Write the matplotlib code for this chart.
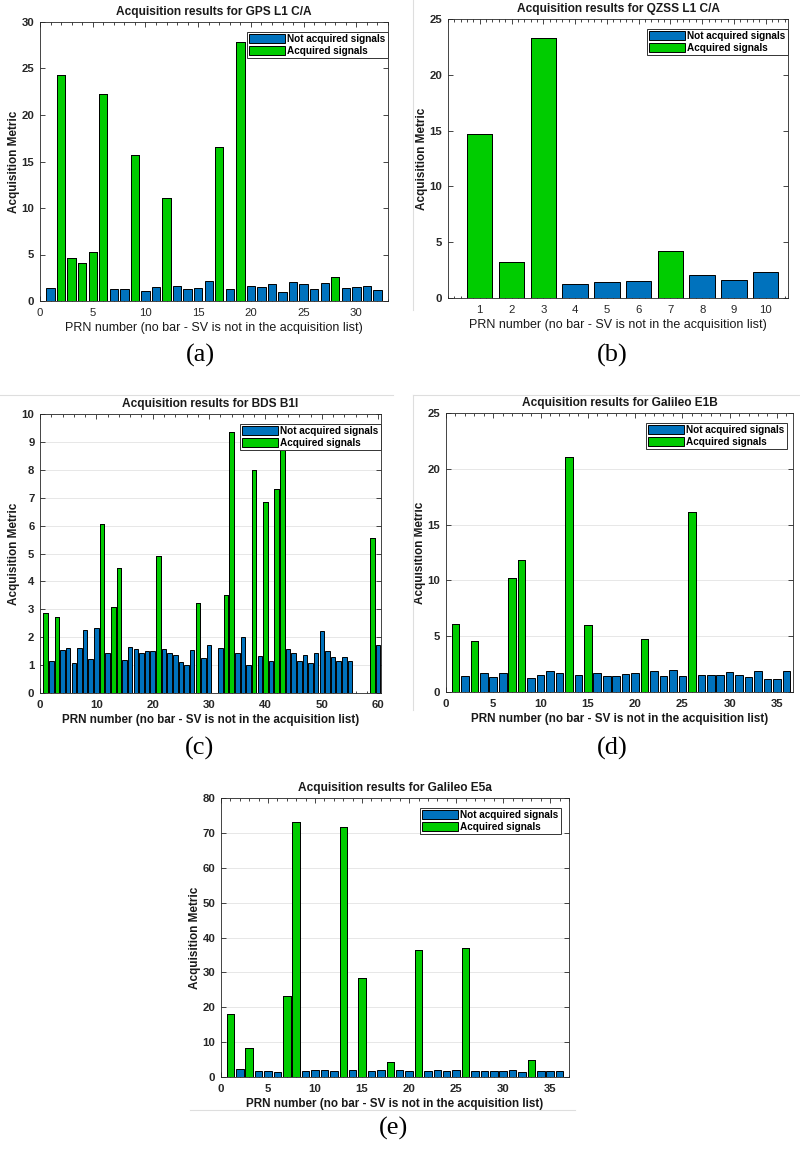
import matplotlib
matplotlib.use('Agg')
import matplotlib.pyplot as plt
from matplotlib.lines import Line2D
from matplotlib.ticker import MultipleLocator

# GPS L1 C/A
gps_prn = list(range(1, 33))
gps_metric = [1.4, 24.3, 4.6, 4.1, 5.3, 22.3, 1.3, 1.3, 15.7, 1.1, 1.5, 11.1, 1.6, 1.3, 1.4, 2.2,
              16.6, 1.3, 27.9, 1.6, 1.5, 1.8, 1.0, 2.0, 1.8, 1.3, 1.9, 2.6, 1.4, 1.5, 1.6, 1.2]
gps_acquired = [0, 1, 1, 1, 1, 1, 0, 0, 1, 0, 0, 1, 0, 0, 0, 0,
                1, 0, 1, 0, 0, 0, 0, 0, 0, 0, 0, 1, 0, 0, 0, 0]

# QZSS L1 C/A
qzss_prn = list(range(1, 11))
qzss_metric = [14.7, 3.2, 23.3, 1.25, 1.4, 1.55, 4.25, 2.1, 1.65, 2.3]
qzss_acquired = [1, 1, 1, 0, 0, 0, 1, 0, 0, 0]

# BDS B1I (PRN 31 and 56-58 not in the list)
bds_prn = list(range(1, 31)) + list(range(32, 56)) + [59, 60]
bds_metric = [2.88, 1.14, 2.72, 1.53, 1.61, 1.08, 1.61, 2.25, 1.22, 2.33,
              6.05, 1.43, 3.08, 4.48, 1.19, 1.64, 1.58, 1.44, 1.52, 1.52,
              4.91, 1.58, 1.44, 1.37, 1.11, 1.02, 1.55, 3.23, 1.26, 1.73,
              1.63, 3.52, 9.37, 1.42, 2.02, 1.0, 8.0, 1.33, 6.83, 1.15,
              7.3, 8.8, 1.57, 1.43, 1.16, 1.36, 1.07, 1.44, 2.24, 1.5,
              1.28, 1.16, 1.3, 1.13, 5.56, 1.73]
bds_acquired_prn = [1, 3, 11, 13, 14, 21, 28, 33, 34, 38, 40, 42, 43, 59]

# Galileo E1B
e1b_prn = list(range(1, 37))
e1b_metric = [6.05, 1.4, 4.53, 1.7, 1.31, 1.7, 10.25, 11.8, 1.22, 1.52, 1.85, 1.7,
              21.05, 1.52, 5.96, 1.7, 1.4, 1.4, 1.64, 1.7, 4.71, 1.85, 1.46, 1.97,
              1.4, 16.1, 1.55, 1.49, 1.49, 1.76, 1.49, 1.31, 1.91, 1.13, 1.13, 1.85]
e1b_acquired_prn = [1, 3, 7, 8, 13, 15, 21, 26]

# Galileo E5a
e5a_prn = list(range(1, 37))
e5a_metric = [18.0, 2.3, 8.3, 1.8, 1.8, 1.5, 23.3, 73.1, 1.8, 2.0, 2.0, 1.8,
              71.7, 2.0, 28.3, 1.8, 2.0, 4.2, 2.0, 1.8, 36.5, 1.8, 2.0, 1.6,
              2.0, 37.0, 1.8, 1.6, 1.8, 1.8, 2.0, 1.4, 4.9, 1.6, 1.6, 1.8]
e5a_acquired_prn = [1, 3, 7, 8, 13, 15, 18, 21, 26, 33]

BLUE = '#0072BD'
GREEN = '#00CC00'
AXCOL = '#262626'
SANS = 'Liberation Sans'


def draw_panel(ax, prn, metric, acquired, title, xlim, ylim, xticks, yticks,
               minor, legend_inset, bold_x, grid):
    # blue bars for every PRN, green on top for the acquired ones
    ax.bar(prn, metric, width=0.8, color=BLUE, edgecolor='black', linewidth=0.7,
           label='Not acquired signals', zorder=2)
    acq_x = [p for p, a in zip(prn, acquired) if a]
    acq_y = [m for m, a in zip(metric, acquired) if a]
    ax.bar(acq_x, acq_y, width=0.8, color=GREEN, edgecolor='black', linewidth=0.7,
           label='Acquired signals', zorder=3)

    ax.set_xlim(*xlim)
    ax.set_ylim(*ylim)
    ax.set_xticks(xticks)
    ax.set_yticks(yticks)
    ax.xaxis.set_minor_locator(MultipleLocator(minor))
    ax.tick_params(which='both', direction='in', top=True, right=True,
                   colors=AXCOL, width=0.6)
    ax.tick_params(which='major', length=3.5, labelsize=8.2)
    ax.tick_params(axis='x', which='major', pad=5)
    ax.tick_params(axis='y', which='major', pad=4)
    ax.tick_params(which='minor', length=1.8)
    ax.tick_params(axis='x', which='minor', top=True, bottom=True)
    for lab in ax.get_yticklabels():
        lab.set_fontweight('bold')
        lab.set_family(SANS)
    for lab in ax.get_xticklabels():
        lab.set_fontweight('bold' if bold_x else 'normal')
        lab.set_family(SANS)
    for sp in ax.spines.values():
        sp.set_color(AXCOL)
        sp.set_linewidth(0.6)
    if grid:
        ax.yaxis.grid(True, color='#e3e3e3', linewidth=0.6, zorder=0)
        ax.set_axisbelow(True)

    ax.set_title(title, fontsize=8.6, fontweight='bold', family=SANS,
                 color='#1a1a1a', pad=5)
    ax.set_ylabel('Acquisition Metric', fontsize=8.5, fontweight='bold', family=SANS,
                  color='#1a1a1a', labelpad=1)
    ax.set_xlabel('PRN number (no bar - SV is not in the acquisition list)',
                  fontsize=8.4 if bold_x else 9.0,
                  fontweight='bold' if bold_x else 'normal',
                  family=SANS, color='#1a1a1a', labelpad=3)

    leg = ax.legend(loc='upper right', bbox_to_anchor=(1 - legend_inset, 0.965),
                    borderaxespad=0, fancybox=False, framealpha=1,
                    edgecolor='#333333', handlelength=3.6, handleheight=1.0,
                    handletextpad=0.2, borderpad=0.25, labelspacing=0.15,
                    prop={'family': SANS, 'weight': 'bold', 'size': 7.2})
    leg.get_frame().set_linewidth(0.7)
    leg.set_zorder(10)


fig = plt.figure(figsize=(8, 11.5), dpi=100)
W, H = 800.0, 1150.0


def add_axes(left, top, right, bottom):
    return fig.add_axes([left / W, 1 - bottom / H, (right - left) / W, (bottom - top) / H])


ax_a = add_axes(40, 22, 388, 301)
ax_b = add_axes(448, 19, 788, 298)
ax_c = add_axes(40, 414, 381, 693)
ax_d = add_axes(446, 413, 793, 692)
ax_e = add_axes(221, 798, 569, 1077)

draw_panel(ax_a, gps_prn, gps_metric, gps_acquired,
           'Acquisition results for GPS L1 C/A', (0, 33), (0, 30),
           range(0, 31, 5), range(0, 31, 5), 1, 0.0, False, False)
draw_panel(ax_b, qzss_prn, qzss_metric, qzss_acquired,
           'Acquisition results for QZSS L1 C/A', (0, 10.7), (0, 25),
           range(1, 11), range(0, 26, 5), 0.2, 0.0, False, False)
draw_panel(ax_c, bds_prn, bds_metric, [p in bds_acquired_prn for p in bds_prn],
           'Acquisition results for BDS B1I', (0, 60.5), (0, 10),
           range(0, 61, 10), range(0, 11), 2, 0.0, True, True)
draw_panel(ax_d, e1b_prn, e1b_metric, [p in e1b_acquired_prn for p in e1b_prn],
           'Acquisition results for Galileo E1B', (0, 36.7), (0, 25),
           range(0, 36, 5), range(0, 26, 5), 1, 0.018, True, True)
draw_panel(ax_e, e5a_prn, e5a_metric, [p in e5a_acquired_prn for p in e5a_prn],
           'Acquisition results for Galileo E5a', (0, 37), (0, 80),
           range(0, 36, 5), range(0, 81, 10), 1, 0.023, True, True)

# sub-figure labels
for txt, x, y in [('(a)', 200, 355), ('(b)', 612, 355), ('(c)', 200, 748),
                  ('(d)', 612, 748), ('(e)', 393, 1128)]:
    fig.text(x / W, 1 - y / H, txt, ha='center', va='center', fontsize=19,
             family='Liberation Serif', color='black')

# faint borders of the pasted panels
sep = dict(color='#dedede', linewidth=0.8, transform=fig.transFigure)
fig.add_artist(Line2D([413 / W, 413 / W], [1, 1 - 310 / H], **sep))
fig.add_artist(Line2D([0, 393 / W], [1 - 395 / H, 1 - 395 / H], **sep))
fig.add_artist(Line2D([413 / W, 1], [1 - 395 / H, 1 - 395 / H], **sep))
fig.add_artist(Line2D([413 / W, 413 / W], [1 - 395 / H, 1 - 710 / H], **sep))
fig.add_artist(Line2D([190 / W, 575 / W], [1 - 1110 / H, 1 - 1110 / H], **sep))

fig.savefig('out.png', dpi=100)
